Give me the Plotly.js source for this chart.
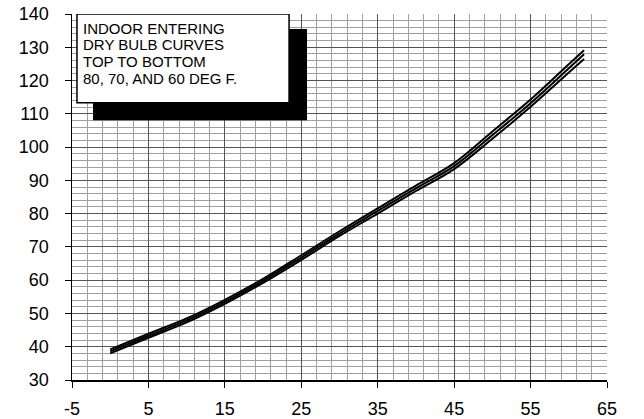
<!DOCTYPE html>
<html><head><meta charset="utf-8">
<script src="https://cdn.plot.ly/plotly-3.0.1.min.js"></script>
<style>
html,body{margin:0;padding:0;background:#fff;} #chart{width:644px;height:419px;}
</style>
</head><body><div id="chart"></div>
<script>
const outdoorTemp = [0, 5, 10, 15, 20, 25, 30, 35, 40, 45, 50, 55, 60, 62];
const curve80 = [39.2, 43.9, 48.5, 54.1, 60.4, 67.5, 74.7, 81.6, 88.4, 95.2, 104.7, 114.3, 124.9, 129.1];
const curve70 = [38.6, 43.3, 47.9, 53.5, 59.8, 66.8, 74.0, 80.8, 87.6, 94.3, 103.6, 113.2, 123.7, 127.9];
const curve60 = [38.0, 42.7, 47.3, 52.9, 59.2, 66.1, 73.3, 80.0, 86.8, 93.4, 102.5, 112.1, 122.4, 126.5];
const noteLines = ["INDOOR ENTERING", "DRY BULB CURVES", "TOP TO BOTTOM", "80, 70, AND 60 DEG F."];
const xTickVals = [-5, 5, 15, 25, 35, 45, 55, 65];
const yTickVals = [30, 40, 50, 60, 70, 80, 90, 100, 110, 120, 130, 140];

const FONT = "Liberation Sans, Arial, sans-serif";
const mk = (y, name) => ({
  x: outdoorTemp, y: y, name: name, type: 'scatter', mode: 'lines',
  line: {color: '#000', width: 2, shape: 'spline', smoothing: 1},
  hoverinfo: 'skip', showlegend: false
});
const data = [mk(curve80, '80'), mk(curve70, '70'), mk(curve60, '60')];

const noteY = [135.7, 130.7, 125.7, 120.7];
const annotations = noteLines.map((t, i) => ({
  text: t, x: -3.7, y: noteY[i], xref: 'x', yref: 'y', showarrow: false, borderpad: 0,
  xanchor: 'left', yanchor: 'middle', font: {family: FONT, size: 15, color: '#000'}
}));

const layout = {
  width: 644, height: 419,
  margin: {l: 72, r: 37, t: 14, b: 39},
  paper_bgcolor: '#fff', plot_bgcolor: '#fff',
  showlegend: false,
  font: {family: FONT, size: 18, color: '#000'},
  xaxis: {
    range: [-5, 65], tickmode: 'array', tickvals: xTickVals, ticktext: xTickVals.map(String),
    showline: true, linecolor: '#000', linewidth: 1.5,
    ticks: 'outside', ticklen: 6, tickcolor: '#000', tickwidth: 1,
    showgrid: true, gridcolor: '#555', gridwidth: 1, zeroline: false,
    ticklabelstandoff: 6,
    minor: {tick0: -5, dtick: 2, showgrid: true, gridcolor: '#a0a0a0', gridwidth: 1, ticks: ''},
    tickfont: {family: FONT, size: 18, color: '#000'}
  },
  yaxis: {
    range: [30, 140], tickmode: 'array', tickvals: yTickVals, ticktext: yTickVals.map(String),
    showline: true, linecolor: '#000', linewidth: 1.5,
    ticks: 'outside', ticklen: 6, tickcolor: '#000', tickwidth: 1,
    showgrid: true, gridcolor: '#555', gridwidth: 1, zeroline: false,
    ticklabelstandoff: 12,
    minor: {tick0: 30, dtick: 2, showgrid: true, gridcolor: '#a0a0a0', gridwidth: 1, ticks: ''},
    tickfont: {family: FONT, size: 18, color: '#000'}
  },
  shapes: [
    {type: 'rect', xref: 'x', yref: 'y', x0: -2.25, x1: 25.75, y0: 108.1, y1: 135.5,
     fillcolor: '#000', line: {width: 0}, layer: 'above'},
    {type: 'rect', xref: 'x', yref: 'y', x0: -4.35, x1: 23.4, y0: 113.3, y1: 140,
     fillcolor: '#fff', line: {color: '#000', width: 1.5}, layer: 'above'}
  ],
  annotations: annotations
};
Plotly.newPlot('chart', data, layout, {displayModeBar: false, staticPlot: true});
</script></body></html>
